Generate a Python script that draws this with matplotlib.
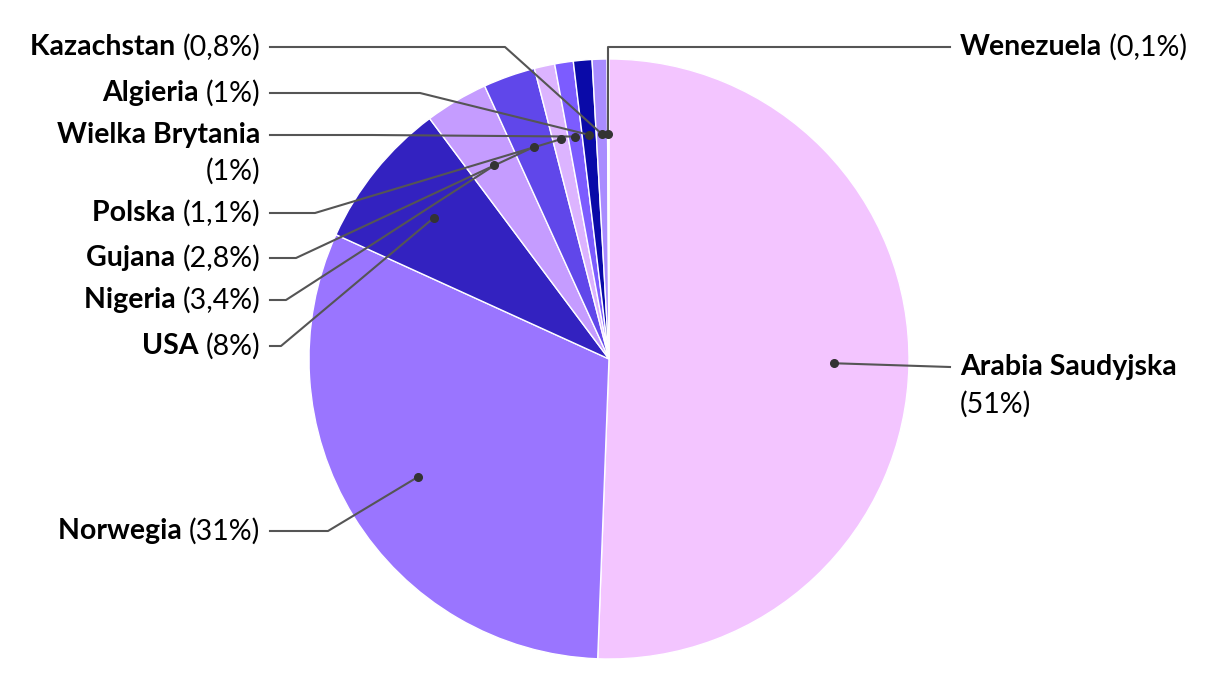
import numpy as np
import matplotlib.pyplot as plt

countries = ['Arabia Saudyjska', 'Norwegia', 'USA', 'Nigeria', 'Gujana', 'Polska',
             'Wielka Brytania', 'Algieria', 'Kazachstan', 'Wenezuela']
# slice sizes (labels show rounded values)
shares = [50.6, 31.2, 8.0, 3.4, 2.8, 1.1, 1.0, 1.0, 0.8, 0.1]
share_labels = ['51%', '31%', '8%', '3,4%', '2,8%', '1,1%', '1%', '1%', '0,8%', '0,1%']
colors = ['#f3c5ff', '#9a75ff', '#3322c0', '#c59cff', '#6047ea', '#dcb4ff',
          '#7c5cff', '#0a0aa8', '#a98cff', '#f0c8ff']

plt.rcParams['font.family'] = ['Lato', 'DejaVu Sans']

fig = plt.figure(figsize=(12.2, 7), dpi=100)
ax = fig.add_axes([0, 0, 1, 1])

cx, cy, R = 609, 341, 300
ax.pie(shares, colors=colors, startangle=90, counterclock=False, center=(cx, cy),
       radius=R, wedgeprops=dict(edgecolor='white', linewidth=1), frame=True)
ax.set_xlim(0, 1220)
ax.set_ylim(0, 700)
ax.set_aspect('equal')
ax.axis('off')

# anchor points at 0.75 R on each wedge's middle angle
frac = np.array(shares) / sum(shares)
mid = np.cumsum(frac) - frac / 2
ang = np.deg2rad(90 - mid * 360)
px = cx + 0.75 * R * np.cos(ang)
py = cy + 0.75 * R * np.sin(ang)

# label layout: (text y in px from top, side, elbow x, two lines?)
layout = {
    'Arabia Saudyjska': (367, 'right', None, True),
    'Norwegia': (531, 'left', 328, False),
    'USA': (346, 'left', 281, False),
    'Nigeria': (300, 'left', 286, False),
    'Gujana': (258, 'left', 296, False),
    'Polska': (213, 'left', 315, False),
    'Wielka Brytania': (135, 'left', 372, True),
    'Algieria': (93, 'left', 420, False),
    'Kazachstan': (47, 'left', 505, False),
    'Wenezuela': (47, 'right', None, False),
}

fs = 20.5
lc = '#555555'
for i, name in enumerate(countries):
    ty, side, ex, twoline = layout[name]
    y = 700 - ty
    if side == 'left':
        ax.plot([270, ex, px[i]], [y, y, py[i]], color=lc, lw=1.5, zorder=3)
        if twoline:
            ax.text(260, y, name, ha='right', va='center', fontsize=fs, fontweight='bold')
            ax.text(260, y - 36, '(' + share_labels[i] + ')', ha='right', va='center', fontsize=fs)
        else:
            t = ax.text(260, y, '(' + share_labels[i] + ')', ha='right', va='center', fontsize=fs)
            ax.annotate(name + ' ', xycoords=t, xy=(0, 0.5), ha='right', va='center',
                        fontsize=fs, fontweight='bold')
    else:
        if name == 'Wenezuela':
            ax.plot([950, px[i], px[i]], [y, y, py[i]], color=lc, lw=1.5, zorder=3)
        else:
            ax.plot([950, px[i]], [y, py[i]], color=lc, lw=1.5, zorder=3)
        t = ax.text(960, y, name, ha='left', va='center', fontsize=fs, fontweight='bold')
        if twoline:
            ax.text(960, y - 37, '(' + share_labels[i] + ')', ha='left', va='center', fontsize=fs)
        else:
            ax.annotate(' (' + share_labels[i] + ')', xycoords=t, xy=(1, 0.5), ha='left',
                        va='center', fontsize=fs)
    ax.plot(px[i], py[i], 'o', color='#333333', ms=5.5, zorder=4)

fig.savefig('out.png', dpi=100)
